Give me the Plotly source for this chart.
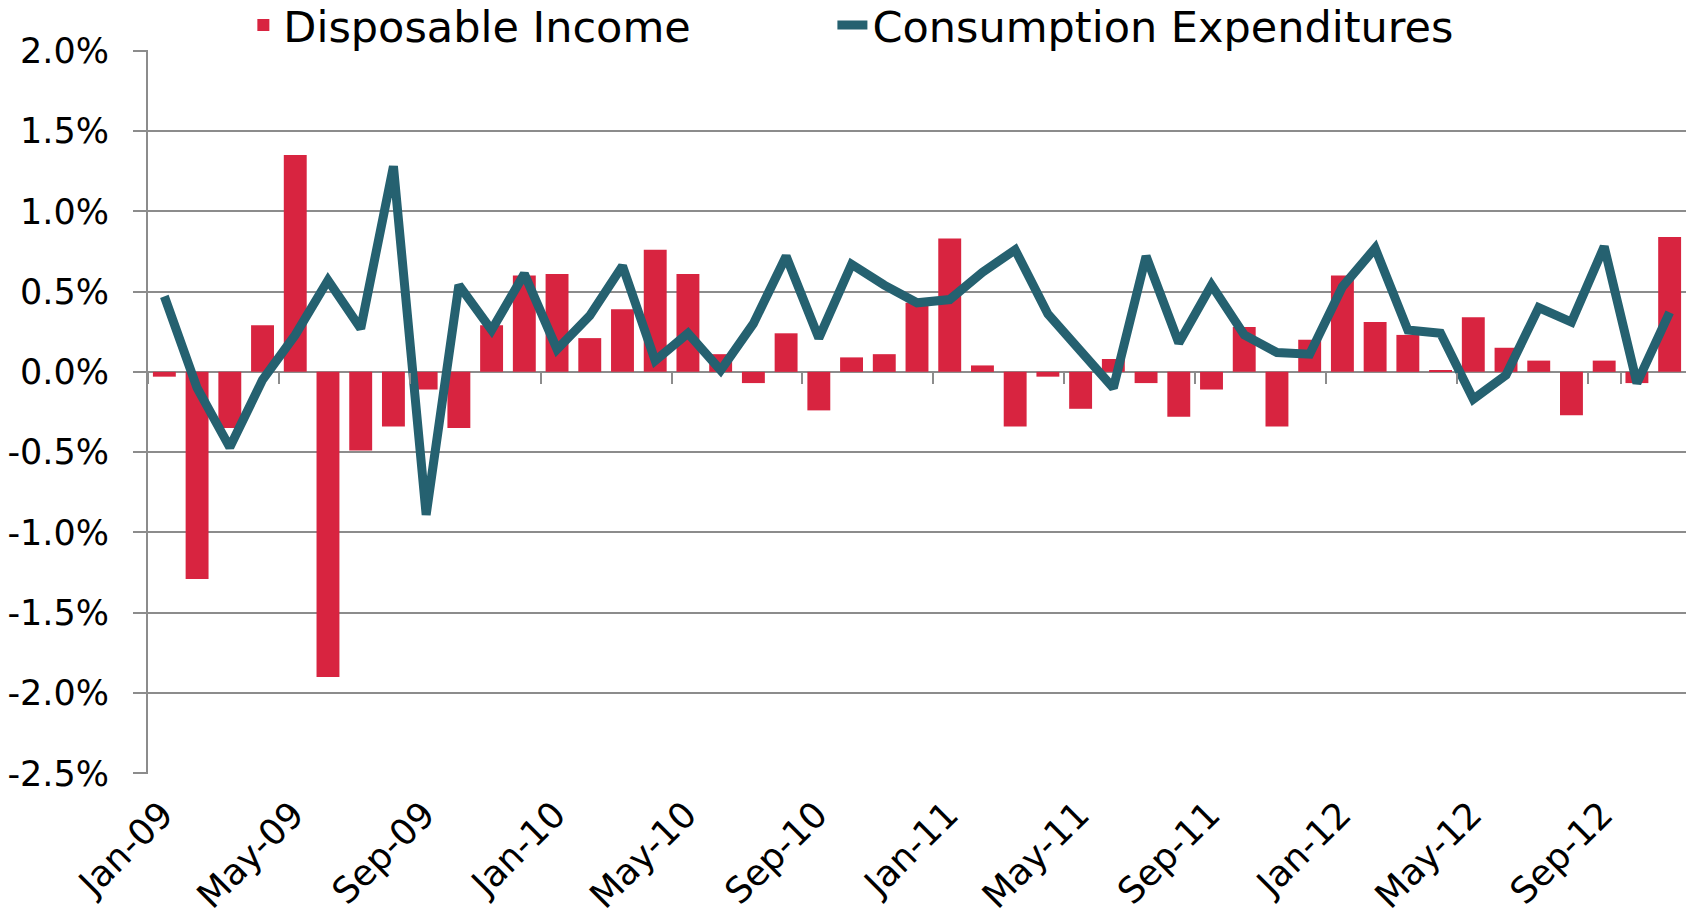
import plotly.graph_objects as go

months = ["Jan-09","Feb-09","Mar-09","Apr-09","May-09","Jun-09","Jul-09","Aug-09","Sep-09","Oct-09","Nov-09","Dec-09",
          "Jan-10","Feb-10","Mar-10","Apr-10","May-10","Jun-10","Jul-10","Aug-10","Sep-10","Oct-10","Nov-10","Dec-10",
          "Jan-11","Feb-11","Mar-11","Apr-11","May-11","Jun-11","Jul-11","Aug-11","Sep-11","Oct-11","Nov-11","Dec-11",
          "Jan-12","Feb-12","Mar-12","Apr-12","May-12","Jun-12","Jul-12","Aug-12","Sep-12","Oct-12","Nov-12"]

disposable_income = [-0.03, -1.29, -0.35, 0.29, 1.35, -1.90, -0.49, -0.34, -0.11, -0.35, 0.29, 0.60,
                     0.61, 0.21, 0.39, 0.76, 0.61, 0.11, -0.07, 0.24, -0.24, 0.09, 0.11, 0.43,
                     0.83, 0.04, -0.34, -0.03, -0.23, 0.08, -0.07, -0.28, -0.11, 0.28, -0.34, 0.20,
                     0.60, 0.31, 0.23, 0.01, 0.34, 0.15, 0.07, -0.27, 0.07, -0.07, 0.84]

consumption = [0.47, -0.10, -0.47, -0.05, 0.23, 0.57, 0.27, 1.28, -0.89, 0.54, 0.26, 0.61,
               0.14, 0.35, 0.66, 0.07, 0.24, 0.01, 0.30, 0.72, 0.21, 0.67, 0.54, 0.43,
               0.45, 0.62, 0.76, 0.36, 0.13, -0.10, 0.72, 0.18, 0.54, 0.23, 0.12, 0.11,
               0.53, 0.77, 0.26, 0.24, -0.17, -0.02, 0.40, 0.31, 0.78, -0.07, 0.37]

x_tick_labels = ["Jan-09","May-09","Sep-09","Jan-10","May-10","Sep-10",
                 "Jan-11","May-11","Sep-11","Jan-12","May-12","Sep-12"]

y_tick_values = [-2.5, -2.0, -1.5, -1.0, -0.5, 0.0, 0.5, 1.0, 1.5, 2.0]
y_tick_labels = ["-2.5%", "-2.0%", "-1.5%", "-1.0%", "-0.5%", "0.0%", "0.5%", "1.0%", "1.5%", "2.0%"]

BAR_COLOR = "#D82440"
LINE_COLOR = "#256170"
GRID = "#8c8c8c"
FONT = "DejaVu Sans"

fig = go.Figure()
fig.add_trace(go.Bar(
    x=months, y=disposable_income, name="Disposable Income",
    marker=dict(color=BAR_COLOR, line=dict(width=0)),
    xaxis="x", yaxis="y", legend="legend",
))
fig.add_trace(go.Scatter(
    x=months, y=consumption, name="Consumption Expenditures",
    mode="lines", line=dict(color=LINE_COLOR, width=9),
    xaxis="x2", yaxis="y", legend="legend2",
))

ymin, ymax = -2.5, 2.0
legend_font = dict(family=FONT, size=43, color="black")
fig.update_layout(
    width=1686, height=923,
    margin=dict(l=148, r=0, t=50, b=149, autoexpand=False),
    paper_bgcolor="white", plot_bgcolor="white",
    bargap=0.3,
    font=dict(family=FONT, color="black"),
    showlegend=True,
    legend=dict(
        orientation="h", x=0.062, xanchor="left", y=1.0345, yanchor="middle",
        font=legend_font, bgcolor="rgba(0,0,0,0)", borderwidth=0,
    ),
    legend2=dict(
        orientation="h", x=0.445, xanchor="left", y=1.0345, yanchor="middle",
        font=legend_font, bgcolor="rgba(0,0,0,0)", borderwidth=0,
    ),
    xaxis=dict(
        type="category", categoryorder="array", categoryarray=months,
        range=[-0.5, len(months) - 0.5],
        tickmode="array", tickvals=x_tick_labels, ticktext=x_tick_labels,
        tickangle=-45, ticks="", showgrid=False, zeroline=False, showline=False,
        tickfont=dict(family=FONT, size=36, color="black"),
        ticklabelstandoff=11, ticklabelshift=-2,
    ),
    xaxis2=dict(
        type="category", categoryorder="array", categoryarray=months,
        range=[-0.5, len(months) - 0.5],
        overlaying="x", anchor="free", position=(0 - ymin) / (ymax - ymin), side="bottom",
        tickmode="array", tickvals=x_tick_labels, tickson="boundaries",
        ticks="outside", ticklen=11, tickwidth=2, tickcolor=GRID,
        showticklabels=False, showgrid=False, zeroline=False, showline=False,
    ),
    yaxis=dict(
        range=[ymin - 0.004, ymax + 0.004],
        tickmode="array", tickvals=y_tick_values, ticktext=y_tick_labels,
        showgrid=True, gridcolor=GRID, gridwidth=2,
        zeroline=False,
        showline=True, linecolor=GRID, linewidth=2,
        ticks="outside", ticklen=13, tickwidth=2, tickcolor=GRID,
        tickfont=dict(family=FONT, size=35, color="black"),
        ticklabelstandoff=17,
    ),
)

fig.write_html("out.html", config={"displayModeBar": False},
               post_script="document.body.style.margin='0px';")
